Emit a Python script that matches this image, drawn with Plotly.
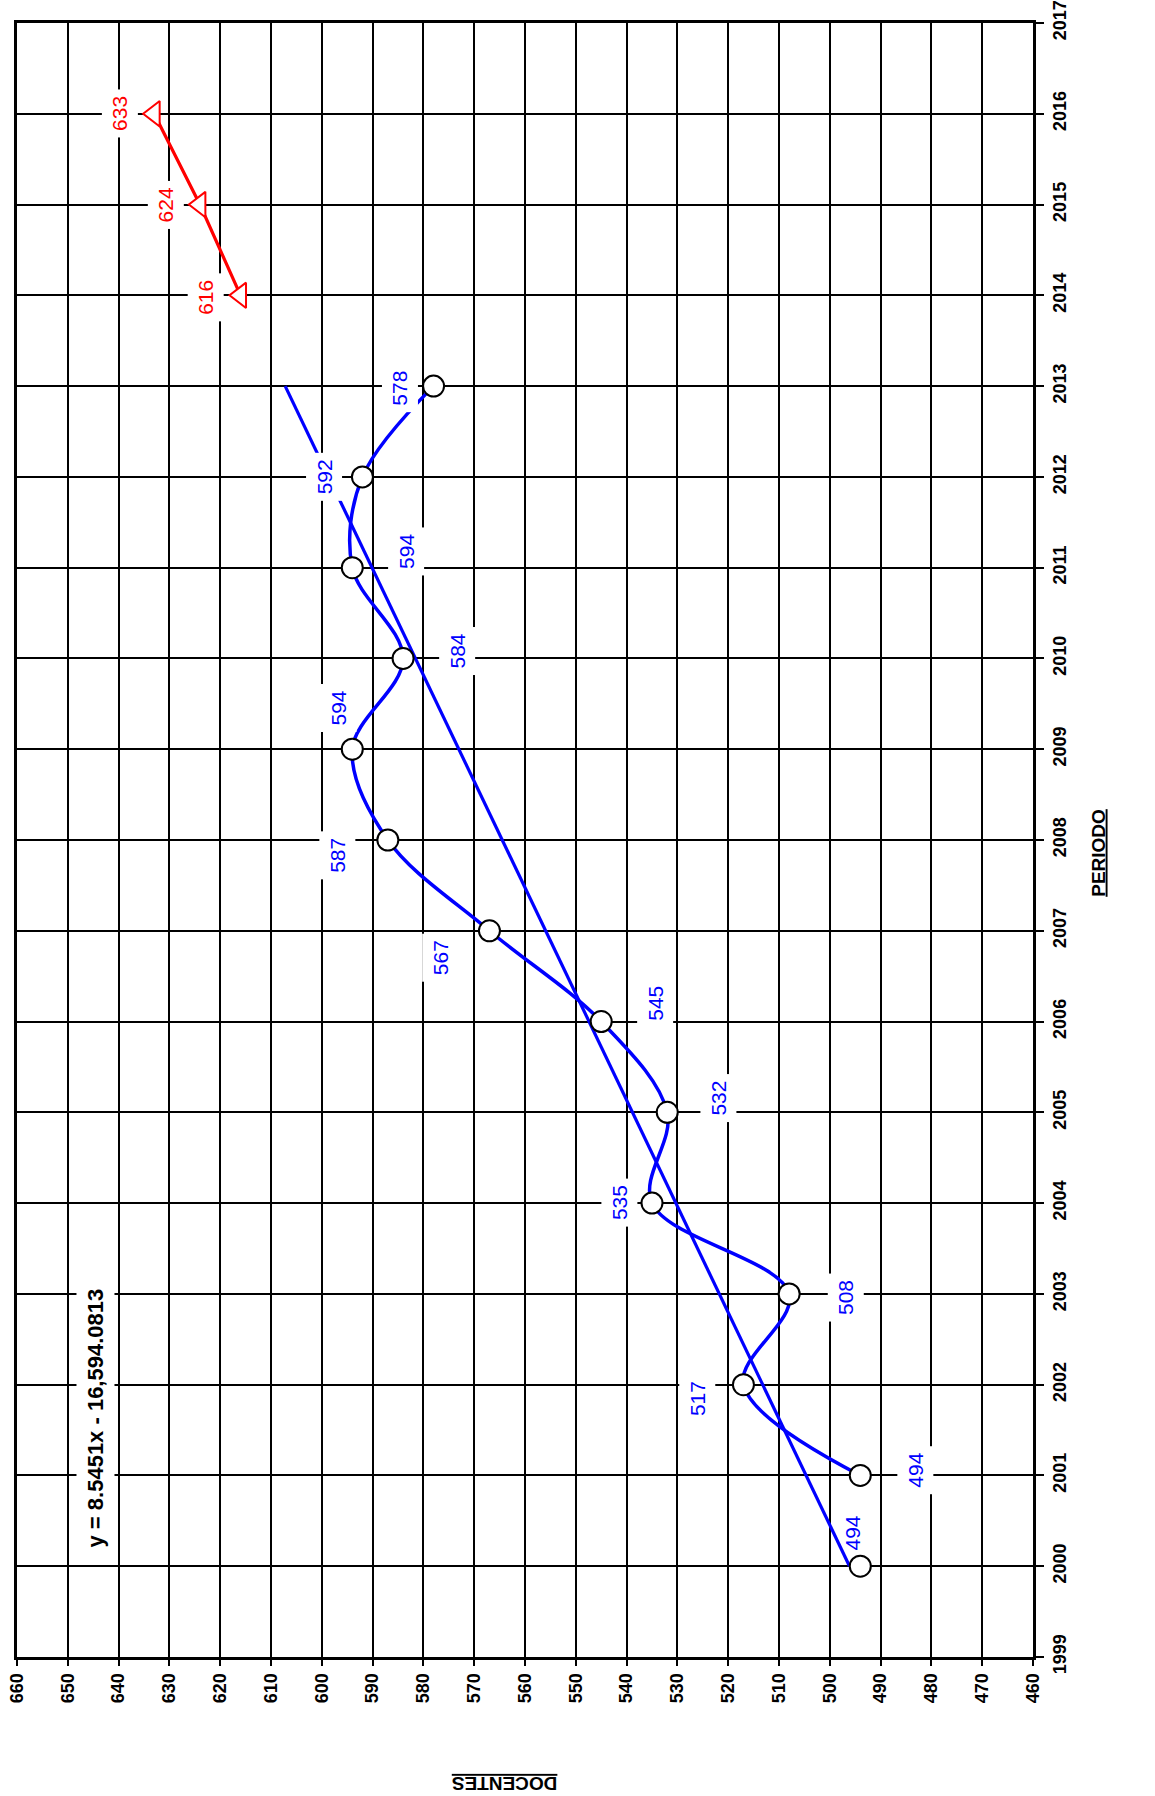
import plotly.graph_objects as go

# ---- data ----
years_hist = [2000, 2001, 2002, 2003, 2004, 2005, 2006, 2007, 2008, 2009, 2010, 2011, 2012, 2013]
docentes_hist = [494, 494, 517, 508, 535, 532, 545, 567, 587, 594, 584, 594, 592, 578]
years_proj = [2014, 2015, 2016]
docentes_proj = [616, 624, 633]
trend_slope = 8.5451
trend_intercept = -16594.0813
equation_text = "y = 8.5451x - 16,594.0813"
x_ticks = list(range(460, 661, 10))
y_ticks = list(range(1999, 2018))

# ---- label offsets (px) ----
hist_offsets = [(-8, 33), (55, 5), (-46, -14), (57, -4), (-33, 0), (51, 14), (54, 18),
                (-49, -27), (-51, -15), (-14, 41), (54, 7), (54, 16), (-38, 0), (-34, -2)]
proj_offsets = [(-35, -2), (-34, 0), (-34, 0)]

FONT = "Liberation Sans Narrow, Arial Narrow, Liberation Sans, Arial, sans-serif"
BLUE = "#0000FF"
RED = "#FF0000"

fig = go.Figure()

# trend line
trend_years = [years_hist[0], years_hist[-1]]
trend_vals = [trend_slope * y + trend_intercept for y in trend_years]
fig.add_trace(go.Scatter(x=trend_vals, y=trend_years, mode="lines",
                         line=dict(color=BLUE, width=3.2), hoverinfo="skip", showlegend=False))

# smoothed historical curve (excel draws it from 2001)
fig.add_trace(go.Scatter(x=docentes_hist[1:], y=years_hist[1:], mode="lines",
                         line=dict(color=BLUE, width=3.5, shape="spline", smoothing=1.0),
                         hoverinfo="skip", showlegend=False))
# markers
fig.add_trace(go.Scatter(x=docentes_hist, y=years_hist, mode="markers",
                         marker=dict(symbol="circle", size=21, color="white",
                                     line=dict(color="black", width=2)),
                         showlegend=False))

# projection
fig.add_trace(go.Scatter(x=docentes_proj, y=years_proj, mode="lines+markers",
                         line=dict(color=RED, width=3.2),
                         marker=dict(symbol="triangle-left", size=22, color="white",
                                     line=dict(color=RED, width=2)),
                         showlegend=False))

annotations = []
for i, (v, yr, (dx, dy)) in enumerate(zip(docentes_hist, years_hist, hist_offsets)):
    bg = "rgba(255,255,255,0)" if i == 0 else "white"
    annotations.append(dict(x=v, y=yr, xref="x", yref="y", text=str(v), showarrow=False,
                            textangle=-90, xshift=dx, yshift=dy, bgcolor=bg, borderpad=6,
                            font=dict(family=FONT, size=21, color=BLUE)))
for v, yr, (dx, dy) in zip(docentes_proj, years_proj, proj_offsets):
    annotations.append(dict(x=v, y=yr, xref="x", yref="y", text=str(v), showarrow=False,
                            textangle=-90, xshift=dx, yshift=dy, bgcolor="white", borderpad=6,
                            font=dict(family=FONT, size=21, color=RED)))

annotations.append(dict(x=644.6, y=2001.63, xref="x", yref="y", text=equation_text,
                        showarrow=False, textangle=-90, bgcolor="white", borderpad=6,
                        font=dict(family=FONT, size=22, color="black", weight="bold")))
annotations.append(dict(x=0.48, y=-0.085, xref="paper", yref="paper", text="<u>DOCENTES</u>",
                        showarrow=False, textangle=180,
                        font=dict(family=FONT, size=19, color="black", weight="bold")))
annotations.append(dict(x=1.076, y=0.492, xref="paper", yref="paper", text="<u>PERIODO</u>",
                        showarrow=False, textangle=-90,
                        font=dict(family=FONT, size=19, color="black", weight="bold")))

fig.update_layout(
    width=1155, height=1796,
    margin=dict(l=17, r=122, t=23, b=139, autoexpand=False),
    paper_bgcolor="white", plot_bgcolor="white",
    annotations=annotations,
    showlegend=False,
    xaxis=dict(range=[660, 460], tickvals=x_ticks, ticktext=[str(t) for t in x_ticks],
               tickangle=-90, ticks="outside", ticklen=6, tickwidth=1.5, tickcolor="black",
               ticklabeloverflow="allow",
               showgrid=True, gridcolor="black", gridwidth=1.5,
               showline=True, linecolor="black", linewidth=3, mirror=True, zeroline=False,
               tickfont=dict(family=FONT, size=18, color="black", weight="bold")),
    yaxis=dict(range=[1999, 2017], tickvals=y_ticks, ticktext=[str(t) for t in y_ticks],
               side="right", tickangle=-90, ticks="outside", ticklen=8, tickwidth=1.5,
               ticklabeloverflow="allow",
               tickcolor="black", showgrid=True, gridcolor="black", gridwidth=1.5,
               showline=True, linecolor="black", linewidth=3, mirror=True, zeroline=False,
               tickfont=dict(family=FONT, size=18, color="black", weight="bold")),
)

fig.write_html("out.html", config={"displayModeBar": False},
               post_script="document.body.style.margin='0px';")
